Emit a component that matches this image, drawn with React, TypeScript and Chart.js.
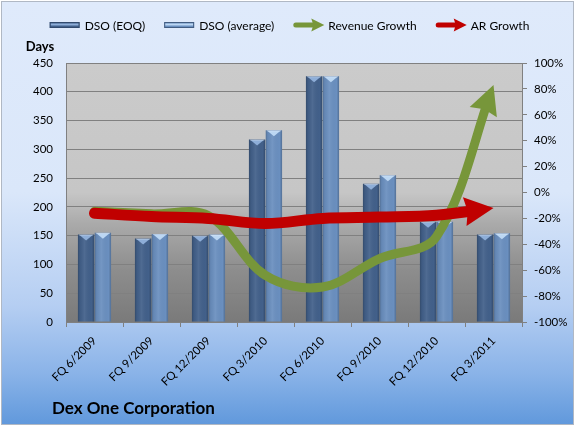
import { useEffect, useRef } from 'react';
import { Chart, registerables } from 'chart.js';

Chart.register(...registerables);

const categories = ['FQ 6/2009', 'FQ 9/2009', 'FQ 12/2009', 'FQ 3/2010', 'FQ 6/2010', 'FQ 9/2010', 'FQ 12/2010', 'FQ 3/2011'];
const dsoEOQ = [152, 145, 150, 317, 427, 240, 174, 152];
const dsoAverage = [155, 153, 152, 333, 427, 255, 174, 154];
const revenueGrowth = [-14.5, -16.5, -18, -64, -73, -51, -34, 83];
const arGrowth = [-16, -18.5, -20, -24, -20, -19, -17.5, -12];

const daysAxis = { min: 0, max: 450, step: 50 };
const pctAxis = { min: -100, max: 100, step: 20 };

const chartTitle = 'Dex One Corporation';
const leftAxisTitle = 'Days';

const FONT = 'Lato, "Noto Sans", sans-serif';

const COLORS = {
  eoq: '#42608a',
  eoqLight: '#8eaed8',
  avg: '#6a8fbf',
  avgLight: '#bcd7f3',
  green: '#77963a',
  red: '#c00000',
  grid: '#808080',
};

type LegendItem = { label: string; kind: 'bar' | 'arrow'; color: string; light?: string };
const legendItems: LegendItem[] = [
  { label: 'DSO (EOQ)', kind: 'bar', color: COLORS.eoq, light: COLORS.eoqLight },
  { label: 'DSO (average)', kind: 'bar', color: COLORS.avg, light: COLORS.avgLight },
  { label: 'Revenue Growth', kind: 'arrow', color: COLORS.green },
  { label: 'AR Growth', kind: 'arrow', color: COLORS.red },
];

const plotBackground = {
  id: 'plotBackground',
  beforeDraw(chart: any) {
    const { ctx, chartArea: a } = chart;
    const g = ctx.createLinearGradient(0, a.top, 0, a.bottom);
    g.addColorStop(0, '#cbcbcb');
    g.addColorStop(0.5, '#c6c6c6');
    g.addColorStop(0.62, '#aaaaaa');
    g.addColorStop(0.8, '#8d8d8d');
    g.addColorStop(1, '#7a7a7a');
    ctx.save();
    ctx.fillStyle = g;
    ctx.fillRect(a.left, a.top, a.right - a.left, a.bottom - a.top);
    ctx.restore();
  },
};

function arrowGeom(meta: any) {
  const pts = meta.data;
  const n = pts.length;
  const last = pts[n - 1];
  let fx = last.cp1x;
  let fy = last.cp1y;
  if (fx === undefined || (Math.abs(fx - last.x) < 0.5 && Math.abs(fy - last.y) < 0.5)) {
    fx = pts[n - 2].x;
    fy = pts[n - 2].y;
  }
  const dx = last.x - fx;
  const dy = last.y - fy;
  const len = Math.hypot(dx, dy) || 1;
  return { tx: last.x, ty: last.y, ux: dx / len, uy: dy / len };
}

const HEAD_LEN = 29;
const HEAD_HALF = 14.5;

const arrowHeads = {
  id: 'arrowHeads',
  beforeDatasetDraw(chart: any, args: any) {
    const meta = args.meta;
    if (meta.type !== 'line') return;
    const { ctx } = chart;
    const { tx, ty, ux, uy } = arrowGeom(meta);
    const bx = tx - ux * (HEAD_LEN - 7);
    const by = ty - uy * (HEAD_LEN - 7);
    const nx = -uy;
    const ny = ux;
    const B = 3000;
    ctx.save();
    ctx.beginPath();
    ctx.moveTo(bx + nx * B, by + ny * B);
    ctx.lineTo(bx + nx * B - ux * B, by + ny * B - uy * B);
    ctx.lineTo(bx - nx * B - ux * B, by - ny * B - uy * B);
    ctx.lineTo(bx - nx * B, by - ny * B);
    ctx.closePath();
    ctx.clip();
  },
  afterDatasetDraw(chart: any, args: any) {
    const meta = args.meta;
    if (meta.type !== 'line') return;
    const { ctx } = chart;
    ctx.restore();
    const { tx, ty, ux, uy } = arrowGeom(meta);
    const nx = -uy;
    const ny = ux;
    const bx = tx - ux * HEAD_LEN;
    const by = ty - uy * HEAD_LEN;
    const notchX = tx - ux * (HEAD_LEN - 3);
    const notchY = ty - uy * (HEAD_LEN - 3);
    ctx.save();
    ctx.fillStyle = meta.dataset.options.borderColor;
    ctx.beginPath();
    ctx.moveTo(tx, ty);
    ctx.lineTo(bx + nx * HEAD_HALF, by + ny * HEAD_HALF);
    ctx.lineTo(notchX, notchY);
    ctx.lineTo(bx - nx * HEAD_HALF, by - ny * HEAD_HALF);
    ctx.closePath();
    ctx.fill();
    ctx.restore();
  },
};

const barBevel = {
  id: 'barBevel',
  afterDatasetDraw(chart: any, args: any) {
    const meta = args.meta;
    if (meta.type !== 'bar') return;
    const { ctx } = chart;
    const light = meta.index === 0 ? COLORS.eoqLight : COLORS.avgLight;
    ctx.save();
    meta.data.forEach((el: any) => {
      const { x, y, base, width } = el.getProps(['x', 'y', 'base', 'width'], true);
      const left = x - width / 2;
      const right = x + width / 2;
      const g = ctx.createLinearGradient(left, 0, right, 0);
      g.addColorStop(0, 'rgba(0,0,0,0.22)');
      g.addColorStop(0.12, 'rgba(0,0,0,0.05)');
      g.addColorStop(0.4, 'rgba(255,255,255,0.07)');
      g.addColorStop(0.85, 'rgba(0,0,0,0.0)');
      g.addColorStop(1, 'rgba(0,0,0,0.22)');
      ctx.fillStyle = g;
      ctx.fillRect(left, y, width, base - y);
      ctx.fillStyle = light;
      ctx.beginPath();
      ctx.moveTo(left + 1.5, y + 0.5);
      ctx.lineTo(right - 1.5, y + 0.5);
      ctx.lineTo(x, y + 6);
      ctx.closePath();
      ctx.fill();
      ctx.fillStyle = 'rgba(255,255,255,0.35)';
      ctx.fillRect(left + 1, y, width - 2, 1);
    });
    ctx.restore();
  },
};

const decorations = {
  id: 'decorations',
  afterDraw(chart: any) {
    const { ctx, width, chartArea } = chart;
    ctx.save();
    // legend
    ctx.font = `12px ${FONT}`;
    ctx.textBaseline = 'middle';
    ctx.textAlign = 'left';
    const sw = 30;
    const gap = 5;
    const itemGap = 19;
    const widths = legendItems.map((it) => sw + gap + ctx.measureText(it.label).width);
    const total = widths.reduce((s, w) => s + w, 0) + itemGap * (legendItems.length - 1);
    let x = width / 2 + 2 - total / 2;
    const cy = 25;
    legendItems.forEach((it, i) => {
      if (it.kind === 'bar') {
        ctx.fillStyle = it.color;
        ctx.fillRect(x, cy - 3, sw, 6);
        ctx.fillStyle = it.light as string;
        ctx.fillRect(x + 1, cy - 1.5, sw - 2, 2);
        ctx.strokeStyle = 'rgba(40,60,90,0.6)';
        ctx.lineWidth = 1;
        ctx.strokeRect(x + 0.5, cy - 2.5, sw - 1, 5);
      } else {
        ctx.strokeStyle = it.color;
        ctx.fillStyle = it.color;
        ctx.lineWidth = 5;
        ctx.lineCap = 'round';
        ctx.beginPath();
        ctx.moveTo(x + 2.5, cy);
        ctx.lineTo(x + sw - 10, cy);
        ctx.stroke();
        ctx.beginPath();
        ctx.moveTo(x + sw + 1, cy);
        ctx.lineTo(x + sw - 12, cy - 6.5);
        ctx.lineTo(x + sw - 10, cy);
        ctx.lineTo(x + sw - 12, cy + 6.5);
        ctx.closePath();
        ctx.fill();
      }
      ctx.fillStyle = '#000';
      ctx.fillText(it.label, x + sw + gap, cy + 1);
      x += widths[i] + itemGap;
    });
    // left axis title
    ctx.font = `bold 13px ${FONT}`;
    ctx.textAlign = 'center';
    ctx.fillText(leftAxisTitle, 40, chartArea.top - 16);
    // chart title
    ctx.font = `bold 17px ${FONT}`;
    ctx.textAlign = 'left';
    ctx.fillText(chartTitle, 52, 409);
    ctx.restore();
  },
};

export default function App() {
  const ref = useRef<HTMLCanvasElement>(null);
  useEffect(() => {
    if (!ref.current) return;
    const tickFont = { family: FONT, size: 11.5 };
    const chart = new Chart(ref.current, {
      type: 'bar',
      data: {
        labels: categories,
        datasets: [
          {
            type: 'bar',
            label: 'DSO (EOQ)',
            data: dsoEOQ,
            backgroundColor: COLORS.eoq,
            yAxisID: 'y',
            order: 3,
            categoryPercentage: 0.59,
            barPercentage: 0.97,
          },
          {
            type: 'bar',
            label: 'DSO (average)',
            data: dsoAverage,
            backgroundColor: COLORS.avg,
            yAxisID: 'y',
            order: 3,
            categoryPercentage: 0.59,
            barPercentage: 0.97,
          },
          {
            type: 'line',
            label: 'Revenue Growth',
            data: revenueGrowth,
            borderColor: COLORS.green,
            borderWidth: 9,
            tension: 0.35,
            pointRadius: 0,
            borderCapStyle: 'round',
            borderJoinStyle: 'round',
            yAxisID: 'y2',
            order: 2,
          },
          {
            type: 'line',
            label: 'AR Growth',
            data: arGrowth,
            borderColor: COLORS.red,
            borderWidth: 11,
            tension: 0.35,
            pointRadius: 0,
            borderCapStyle: 'round',
            borderJoinStyle: 'round',
            yAxisID: 'y2',
            order: 1,
          },
        ] as any,
      },
      options: {
        animation: false,
        responsive: false,
        events: [],
        layout: { padding: { top: 63, left: 0, right: 0, bottom: 0 } },
        plugins: {
          legend: { display: false },
          title: { display: false },
          tooltip: { enabled: false },
        },
        scales: {
          x: {
            offset: true,
            grid: { offset: true, drawOnChartArea: false, drawTicks: true, tickLength: 5, color: COLORS.grid },
            border: { display: true, color: COLORS.grid },
            ticks: { font: tickFont, color: '#000', minRotation: 45, maxRotation: 45, padding: 7, autoSkip: false },
            afterFit: (s: any) => {
              s.height = 105;
            },
          },
          y: {
            position: 'left',
            min: daysAxis.min,
            max: daysAxis.max,
            ticks: { stepSize: daysAxis.step, font: tickFont, color: '#000', padding: 13 },
            grid: { color: COLORS.grid, drawTicks: false, lineWidth: 1 },
            border: { display: true, color: COLORS.grid },
            afterFit: (s: any) => {
              s.width = 66;
            },
          },
          y2: {
            position: 'right',
            min: pctAxis.min,
            max: pctAxis.max,
            ticks: {
              stepSize: pctAxis.step,
              font: tickFont,
              color: '#000',
              padding: 7,
              callback: (v: any) => `${v}%`,
            },
            grid: { drawOnChartArea: false, drawTicks: true, tickLength: 5, color: COLORS.grid },
            border: { display: true, color: COLORS.grid },
            afterFit: (s: any) => {
              s.width = 53;
            },
          },
        },
      } as any,
      plugins: [plotBackground, barBevel, arrowHeads, decorations],
    });
    return () => chart.destroy();
  }, []);

  return (
    <div style={{ position: 'fixed', left: 0, top: 0, width: 575, height: 427, background: '#fff' }}>
      <div
        style={{
          position: 'absolute',
          left: 1,
          top: 1,
          width: 573,
          height: 424,
          boxSizing: 'border-box',
          border: '1px solid #b0b8c4',
          background: 'linear-gradient(to bottom, #dfeafb 0%, #dae7fa 45%, #b5cef2 72%, #8ab3e8 88%, #6199dc 100%)',
        }}
      />
      <canvas ref={ref} width={575} height={427} style={{ position: 'absolute', left: 0, top: 0, width: 575, height: 427 }} />
    </div>
  );
}
